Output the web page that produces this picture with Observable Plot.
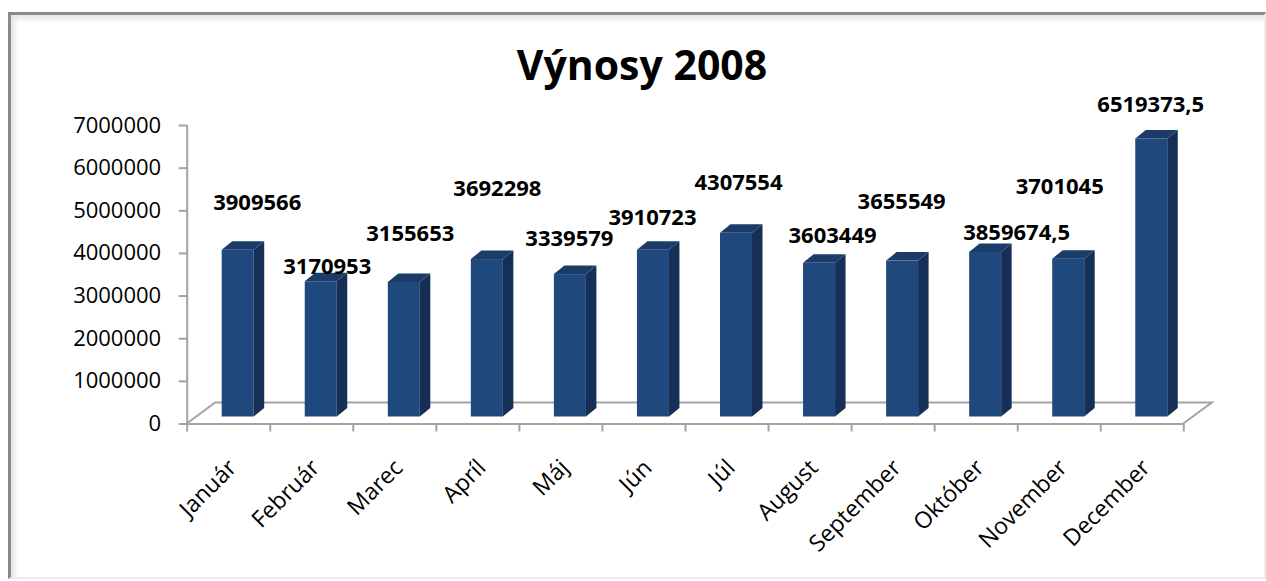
<!DOCTYPE html>
<html>
<head>
<meta charset="utf-8">
<script src="https://cdn.jsdelivr.net/npm/d3@7"></script>
<script src="https://cdn.jsdelivr.net/npm/@observablehq/plot@0.6"></script>
<style>
  html, body { margin: 0; padding: 0; background: #fff; }
  #frame {
    position: absolute; left: 8px; top: 12px; width: 1258px; height: 567px;
    box-sizing: border-box;
    border-left: 3px solid #8a8a8a; border-top: 3px solid #8a8a8a;
    border-right: 2px solid #ececec; border-bottom: 2px solid #ececec;
    box-shadow: inset 4px 4px 5px rgba(0,0,0,0.10);
  }
  #chart { position: relative; width: 1266px; }
  #title {
    height: 100px; box-sizing: border-box; padding-top: 38px;
    text-align: center; font-family: "Open Sans", sans-serif; font-weight: bold;
    font-size: 41px; line-height: 52px; color: #000; padding-left: 18px;
  }
</style>
</head>
<body>
<div id="frame"></div>
<div id="chart">
  <div id="title">Výnosy 2008</div>
</div>
<script>
// ---- data ----
const months = ["Január","Február","Marec","Apríl","Máj","Jún","Júl","August","September","Október","November","December"];
const revenues = [3909566, 3170953, 3155653, 3692298, 3339579, 3910723, 4307554, 3603449, 3655549, 3859674.5, 3701045, 6519373.5];
const valueLabels = ["3909566","3170953","3155653","3692298","3339579","3910723","4307554","3603449","3655549","3859674,5","3701045","6519373,5"];
const yTicks = [0, 1000000, 2000000, 3000000, 4000000, 5000000, 6000000, 7000000];
// Excel-style 3-D label placement nudges (px, relative to each category start / value)
const labelNudgeX = [70, 57, 57, 61, 50, 50, 53, 64, 50, 82, 42, 50];
const labelNudgeY = [-54, -22, -55, -78, -43, -39, -57, -34, -66, -26, -79, -41];

const data = months.map((m, i) => ({i, month: m, value: revenues[i], label: valueLabels[i]}));

// ---- styles ----
const frontColor = "#1f497d", sideColor = "#162f56", topColor = "#1b3c69";
const gridGray = "#a3a3a3";
const barInsetLeft = 35, barWidth = 32, lift = 7, depthX = 10.5, depthY = 8.5;
const floorX = 28.5, floorY = 21;

function floor(index, scales) {
  const x = scales.x, y = scales.y;
  const x0 = x(0), x1 = x(months.length), y0 = y(0);
  const g = d3.create("svg:g");
  g.append("path")
    .attr("d", `M${x0},${y0}L${x0 + floorX},${y0 - floorY}L${x1 + floorX},${y0 - floorY}L${x1},${y0}`)
    .attr("fill", "none").attr("stroke", gridGray).attr("stroke-width", 2);
  return g.node();
}

function barSides(index, scales) {
  const x = scales.x, y = scales.y;
  const g = d3.create("svg:g");
  for (const d of data) {
    const xl = x(d.i) + barInsetLeft, xr = xl + barWidth;
    const yt = y(d.value) - lift, yb = y(0) - lift;
    g.append("polygon")
      .attr("points", [[xr, yt], [xr + depthX, yt - depthY], [xr + depthX, yb - depthY], [xr, yb]].map(p => p.join(",")).join(" "))
      .attr("fill", sideColor);
    g.append("polygon")
      .attr("points", [[xl, yt], [xl + depthX, yt - depthY], [xr + depthX, yt - depthY], [xr, yt]].map(p => p.join(",")).join(" "))
      .attr("fill", topColor);
  }
  return g.node();
}

const bw = (1183.3 - 186.7) / 12;

const plot = Plot.plot({
  width: 1266,
  height: 481,
  marginLeft: 186.7,
  marginRight: 82.7,
  marginTop: 25,
  marginBottom: 157.5,
  style: {fontFamily: "Open Sans, sans-serif", fontSize: "22px", background: "transparent", overflow: "visible", color: "#000"},
  x: {type: "linear", domain: [0, 12]},
  y: {domain: [0, 7000000]},
  marks: [
    floor,
    Plot.rectY(data, {x1: d => d.i, x2: d => d.i + 1, y1: 0, y2: "value", fill: frontColor,
      insetLeft: barInsetLeft, insetRight: bw - barInsetLeft - barWidth, dy: -lift}),
    barSides,
    Plot.ruleX([0], {y1: 0, y2: 7000000, stroke: gridGray, strokeWidth: 2}),
    Plot.ruleY([0], {stroke: gridGray, strokeWidth: 2}),
    Plot.axisY({ticks: yTicks, tickFormat: d => String(d), tickSize: 8, tickPadding: 18,
      stroke: gridGray, strokeWidth: 2, fill: "#000", fontSize: 22, label: null}),
    Plot.axisX({ticks: d3.range(13), tickFormat: () => "", tickSize: 8, stroke: gridGray, strokeWidth: 2, label: null}),
    Plot.axisX({ticks: d3.range(12).map(i => i + 0.5), tickFormat: d => months[Math.floor(d)],
      tickSize: 0, tickPadding: 40, tickRotate: -45, dx: 4, fill: "#000", fontSize: 23, label: null}),
    ...data.map((d, k) => Plot.text([d], {x: "i", y: "value", text: "label",
      dx: labelNudgeX[k], dy: labelNudgeY[k], fontWeight: "bold", fontSize: 22, fill: "#000"}))
  ]
});
document.getElementById("chart").appendChild(plot);
</script>
</body>
</html>
